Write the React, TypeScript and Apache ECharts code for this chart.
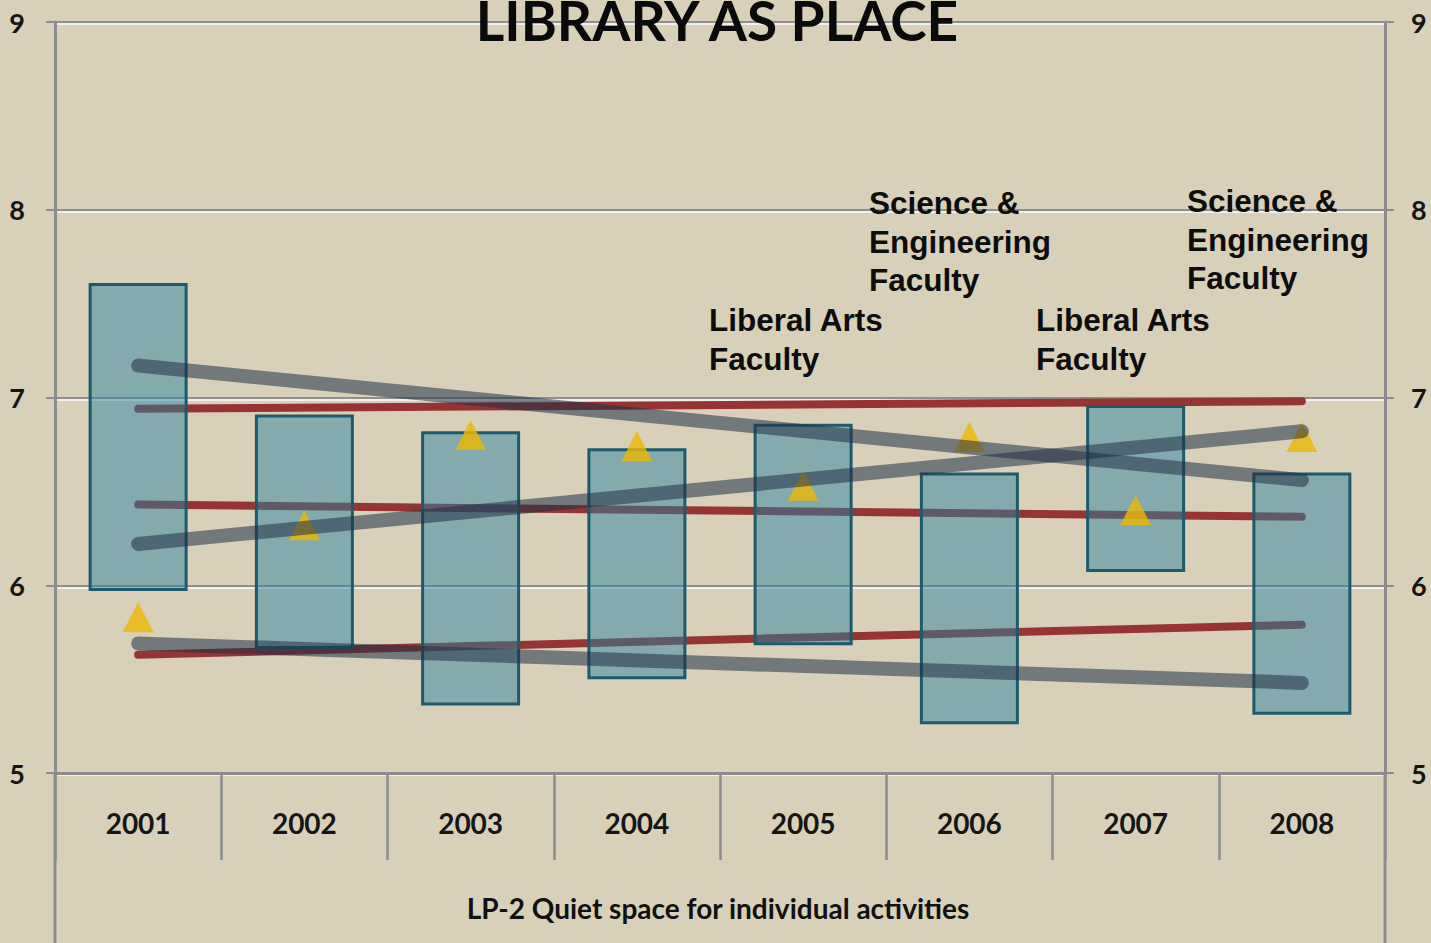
import React, { useEffect, useRef } from "react";
import * as echarts from "echarts";

const years = ["2001", "2002", "2003", "2004", "2005", "2006", "2007", "2008"];
const boxHigh = [7.61, 6.91, 6.82, 6.73, 6.86, 6.6, 6.96, 6.6];
const boxLow = [5.97, 5.66, 5.36, 5.5, 5.68, 5.26, 6.07, 5.31];
const triangles = [5.83, 6.32, 6.8, 6.74, 6.53, 6.79, 6.4, 6.79];

// trend lines: [start (2001), end (2008)]
const thickTrend1 = [7.17, 6.56];
const thickTrend2 = [6.22, 6.82];
const thickTrend3 = [5.69, 5.48];
const redTrend1 = [6.94, 6.98];
const redTrend2 = [6.43, 6.365];
const redTrend3 = [5.63, 5.79];

const yTicks = [5, 6, 7, 8, 9];
const titleText = "LIBRARY AS PLACE";
const subtitleText = "LP-2 Quiet space for individual activities";
const sciLabel = ["Science &", "Engineering", "Faculty"];
const artsLabel = ["Liberal Arts", "Faculty"];

function endpoints(pair: number[]) {
  return years.map((_, i) => (i === 0 ? pair[0] : i === years.length - 1 ? pair[1] : null));
}

export default function App() {
  const ref = useRef<HTMLDivElement>(null);
  useEffect(() => {
    document.body.style.margin = "0";
    const chart = echarts.init(ref.current!, null, { renderer: "svg" });
    const axisGray = "#8c8c8c";
    const thickStyle = { color: "rgba(33,47,71,0.55)", width: 14, cap: "round" as const };
    const redStyle = { color: "#953432", width: 8, cap: "round" as const };
    const lineSeries = (name: string, pair: number[], style: any, z: number) => ({
      name,
      type: "line",
      data: endpoints(pair),
      connectNulls: true,
      symbol: "none",
      lineStyle: style,
      z,
      silent: true,
    });
    const yMin = yTicks[0];
    const yMax = yTicks[yTicks.length - 1];
    const yAxisCommon = {
      type: "value",
      gridIndex: 0,
      min: yMin,
      max: yMax,
      interval: 1,
      axisLine: { show: true, lineStyle: { color: axisGray, width: 3 } },
      axisTick: { show: true, length: 9, lineStyle: { color: axisGray, width: 2 } },
      axisLabel: {
        fontFamily: "Lato",
        fontWeight: "bold",
        fontSize: 27,
        color: "#151515",
      },
    };
    const textStyle = (x: number, y: number, lines: string[]) => ({
      type: "text",
      x,
      y,
      style: {
        text: lines.join("\n"),
        font: 'bold 31.5px "Liberation Sans"',
        fill: "#0d0d0d",
        lineHeight: 38.5,
        verticalAlign: "top",
        align: "left",
      },
      z: 10,
    });
    chart.setOption({
      animation: false,
      backgroundColor: "#d8d0b9",
      grid: [
        { left: 55, right: 46, top: 22, bottom: 170 },
        { left: 55, right: 46, top: 24, bottom: 168 },
      ],
      xAxis: [
        {
          type: "category",
          gridIndex: 0,
          data: years,
          axisLine: { show: true, lineStyle: { color: axisGray, width: 3 } },
          axisTick: { show: true, interval: 0, length: 87, lineStyle: { color: axisGray, width: 2.5 } },
          axisLabel: {
            fontFamily: "Lato",
            fontWeight: "bold",
            fontSize: 28,
            color: "#151515",
            margin: 36,
          },
          splitLine: { show: false },
          z: 3,
        },
        {
          type: "category",
          gridIndex: 1,
          data: years,
          show: false,
        },
      ],
      yAxis: [
        {
          ...yAxisCommon,
          position: "left",
          axisLabel: { ...yAxisCommon.axisLabel, margin: 30 },
          splitLine: { show: true, lineStyle: { color: "#8f8f8f", width: 2 } },
          z: 1,
        },
        {
          ...yAxisCommon,
          position: "right",
          axisLabel: { ...yAxisCommon.axisLabel, margin: 26 },
          splitLine: { show: false },
        },
        {
          type: "value",
          gridIndex: 1,
          min: yMin,
          max: yMax,
          interval: 1,
          axisLine: { show: false },
          axisTick: { show: false },
          axisLabel: { show: false },
          splitLine: { show: true, lineStyle: { color: "#f2f0ea", width: 2 } },
          z: 0,
        },
      ],
      graphic: [
        {
          type: "line",
          shape: { x1: 55, y1: 773, x2: 55, y2: 943 },
          style: { stroke: axisGray, lineWidth: 3 },
          z: 5,
        },
        {
          type: "line",
          shape: { x1: 1385, y1: 773, x2: 1385, y2: 943 },
          style: { stroke: axisGray, lineWidth: 3 },
          z: 5,
        },
        {
          type: "text",
          x: 717,
          y: 20,
          style: {
            text: titleText,
            font: 'bold 55px "Lato"',
            fill: "#0a0a0a",
            align: "center",
            verticalAlign: "middle",
          },
          z: 10,
        },
        {
          type: "text",
          x: 718,
          y: 908,
          style: {
            text: subtitleText,
            font: 'bold 28px "Lato"',
            fill: "#111",
            align: "center",
            verticalAlign: "middle",
          },
          z: 10,
        },
        textStyle(869, 184, sciLabel),
        textStyle(1187, 182, sciLabel),
        textStyle(709, 301, artsLabel),
        textStyle(1036, 301, artsLabel),
      ],
      series: [
        lineSeries("red1", redTrend1, redStyle, 1),
        lineSeries("red2", redTrend2, redStyle, 1),
        lineSeries("red3", redTrend3, redStyle, 1),
        {
          name: "base",
          type: "bar",
          stack: "box",
          data: boxLow,
          barWidth: 99,
          itemStyle: { color: "transparent", borderWidth: 0 },
          z: 2,
          silent: true,
        },
        {
          name: "range",
          type: "bar",
          stack: "box",
          data: boxHigh.map((h, i) => +(h - boxLow[i]).toFixed(3)),
          barWidth: 99,
          itemStyle: {
            color: "rgba(37,131,162,0.48)",
            borderColor: "#1d5a6c",
            borderWidth: 3,
          },
          z: 2,
          silent: true,
        },
        {
          name: "mean",
          type: "scatter",
          data: triangles,
          symbol: "triangle",
          symbolSize: [31, 30],
          itemStyle: { color: "#edb800" },
          z: 3,
          silent: true,
        },
        lineSeries("thick1", thickTrend1, thickStyle, 4),
        lineSeries("thick2", thickTrend2, thickStyle, 4),
        lineSeries("thick3", thickTrend3, thickStyle, 4),
      ],
    });
    return () => chart.dispose();
  }, []);
  return <div ref={ref} style={{ width: 1431, height: 943 }} />;
}
